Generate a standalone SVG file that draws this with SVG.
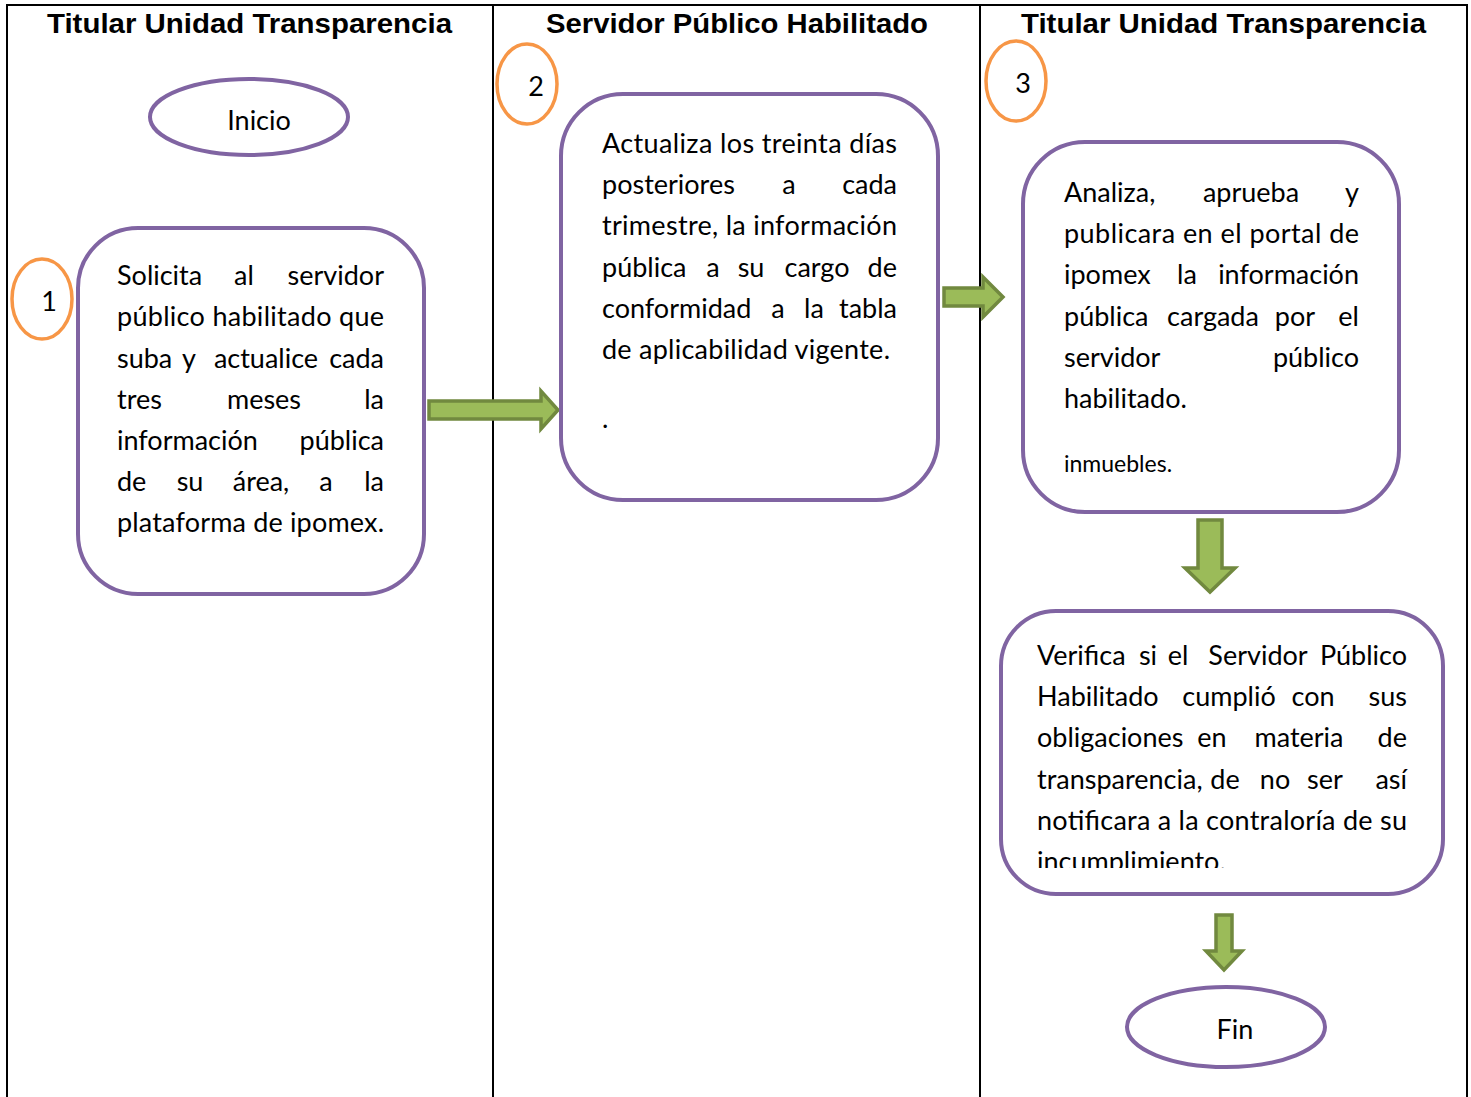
<svg xmlns="http://www.w3.org/2000/svg" width="1471" height="1097" viewBox="0 0 1471 1097">
<style>
.frame{stroke:#000;stroke-width:2;fill:none}
.hdr{font-family:"Liberation Sans",Arial,sans-serif;font-weight:bold;font-size:28px;fill:#000;text-anchor:middle}
.box{fill:#fff;stroke:#8064A2;stroke-width:4}
.num{fill:#fff;stroke:#F79646;stroke-width:3.5}
.t{font-family:Lato,"Open Sans",sans-serif;font-size:27px;fill:#000}
.m{text-anchor:middle}
.e{text-anchor:end}
.arr{fill:#9BBB59;stroke:#71893F;stroke-width:3.5;stroke-linejoin:miter}
</style>
<defs>
<clipPath id="clip4"><rect x="1003" y="613" width="438" height="255"/></clipPath>
</defs>
<rect width="1471" height="1097" fill="#fff"/>
<g id="frame">
<line class="frame" x1="6" y1="5" x2="1468" y2="5"/>
<line class="frame" x1="7" y1="4" x2="7" y2="1097"/>
<line class="frame" x1="493" y1="4" x2="493" y2="1097"/>
<line class="frame" x1="980" y1="4" x2="980" y2="1097"/>
<line class="frame" x1="1467" y1="4" x2="1467" y2="1097"/>
<text class="hdr" x="249.5" y="33" textLength="405" lengthAdjust="spacingAndGlyphs">Titular Unidad Transparencia</text>
<text class="hdr" x="737" y="33" textLength="382" lengthAdjust="spacingAndGlyphs">Servidor Público Habilitado</text>
<text class="hdr" x="1223.5" y="33" textLength="405" lengthAdjust="spacingAndGlyphs">Titular Unidad Transparencia</text>
</g>
<g id="connectors">
<polygon class="arr" points="429,401 541,401 541,391 558,410 541,429 541,419 429,419"/>
<polygon class="arr" points="944,288 983,288 983,277 1003,297 983,317 983,306 944,306"/>
<polygon class="arr" points="1198,520 1222,520 1222,568 1235,568 1210,592 1185,568 1198,568"/>
<polygon class="arr" points="1216,915 1232,915 1232,951 1242,951 1224,970 1206,951 1216,951"/>
</g>
<g id="inicio">
<ellipse class="box" cx="249" cy="117" rx="99" ry="38"/>
<text class="t m" x="259" y="130">Inicio</text>
</g>
<g id="n1">
<ellipse class="num" cx="42" cy="299" rx="30" ry="40"/>
<text class="t m" x="49" y="311">1</text>
</g>
<g id="n2">
<ellipse class="num" cx="527" cy="84" rx="30" ry="40"/>
<text class="t m" x="536" y="96">2</text>
</g>
<g id="n3">
<ellipse class="num" cx="1016" cy="81" rx="30" ry="40"/>
<text class="t m" x="1023" y="93">3</text>
</g>
<g id="step1">
<rect class="box" x="78" y="228" width="346" height="366" rx="60"/>
<text class="t" x="117" y="285">Solicita</text><text class="t m" x="244" y="285">al</text><text class="t e" x="384" y="285">servidor</text>
<text class="t" x="117" y="326" textLength="267" lengthAdjust="spacing">público habilitado que</text>
<text class="t" x="117" y="368">suba</text><text class="t m" x="189" y="368">y</text><text class="t m" x="266" y="368">actualice</text><text class="t e" x="384" y="368">cada</text>
<text class="t" x="117" y="409">tres</text><text class="t m" x="264" y="409">meses</text><text class="t e" x="384" y="409">la</text>
<text class="t" x="117" y="450">información</text><text class="t e" x="384" y="450">pública</text>
<text class="t" x="117" y="491">de</text><text class="t m" x="190" y="491">su</text><text class="t m" x="261" y="491">área,</text><text class="t m" x="326" y="491">a</text><text class="t e" x="384" y="491">la</text>
<text class="t" x="117" y="532" textLength="267" lengthAdjust="spacing">plataforma de ipomex.</text>
</g>
<g id="step2">
<rect class="box" x="561" y="94" width="377" height="406" rx="62"/>
<text class="t" x="602" y="153" textLength="295" lengthAdjust="spacing">Actualiza los treinta días</text>
<text class="t" x="602" y="194">posteriores</text><text class="t m" x="789" y="194">a</text><text class="t e" x="897" y="194">cada</text>
<text class="t" x="602" y="235" textLength="295" lengthAdjust="spacing">trimestre, la información</text>
<text class="t" x="602" y="277">pública</text><text class="t m" x="713" y="277">a</text><text class="t m" x="751" y="277">su</text><text class="t m" x="817" y="277">cargo</text><text class="t e" x="897" y="277">de</text>
<text class="t" x="602" y="318">conformidad</text><text class="t m" x="778" y="318">a</text><text class="t m" x="814" y="318">la</text><text class="t e" x="897" y="318">tabla</text>
<text class="t" x="602" y="359" textLength="288" lengthAdjust="spacing">de aplicabilidad vigente.</text>
<text class="t" x="602" y="428">.</text>
</g>
<g id="step3">
<rect class="box" x="1023" y="142" width="376" height="370" rx="62"/>
<text class="t" x="1064" y="202">Analiza,</text><text class="t m" x="1251" y="202">aprueba</text><text class="t e" x="1359" y="202">y</text>
<text class="t" x="1064" y="243" textLength="295" lengthAdjust="spacing">publicara en el portal de</text>
<text class="t" x="1064" y="284">ipomex</text><text class="t m" x="1187" y="284">la</text><text class="t e" x="1359" y="284">información</text>
<text class="t" x="1064" y="326">pública</text><text class="t m" x="1213" y="326">cargada</text><text class="t m" x="1295" y="326">por</text><text class="t e" x="1359" y="326">el</text>
<text class="t" x="1064" y="367">servidor</text><text class="t e" x="1359" y="367">público</text>
<text class="t" x="1064" y="408">habilitado.</text>
<text class="t" x="1064" y="472" style="font-size:23px">inmuebles.</text>
</g>
<g id="step4">
<rect class="box" x="1001" y="611" width="442" height="283" rx="55"/>
<text class="t" x="1037" y="665">Verifica</text><text class="t m" x="1148" y="665">si</text><text class="t m" x="1178" y="665">el</text><text class="t m" x="1258" y="665">Servidor</text><text class="t e" x="1407" y="665">Público</text>
<text class="t" x="1037" y="706">Habilitado</text><text class="t m" x="1229" y="706">cumplió</text><text class="t m" x="1313" y="706">con</text><text class="t e" x="1407" y="706">sus</text>
<text class="t" x="1037" y="747">obligaciones</text><text class="t m" x="1212" y="747">en</text><text class="t m" x="1299" y="747">materia</text><text class="t e" x="1407" y="747">de</text>
<text class="t" x="1037" y="789">transparencia,</text><text class="t m" x="1225" y="789">de</text><text class="t m" x="1275" y="789">no</text><text class="t m" x="1325" y="789">ser</text><text class="t e" x="1407" y="789">así</text>
<text class="t" x="1037" y="830" textLength="370" lengthAdjust="spacing">notificara a la contraloría de su</text>
<text class="t" x="1037" y="871" clip-path="url(#clip4)">incumplimiento.</text>
</g>
<g id="fin">
<ellipse class="box" cx="1226" cy="1027" rx="99" ry="40"/>
<text class="t m" x="1235" y="1039">Fin</text>
</g>
</svg>
